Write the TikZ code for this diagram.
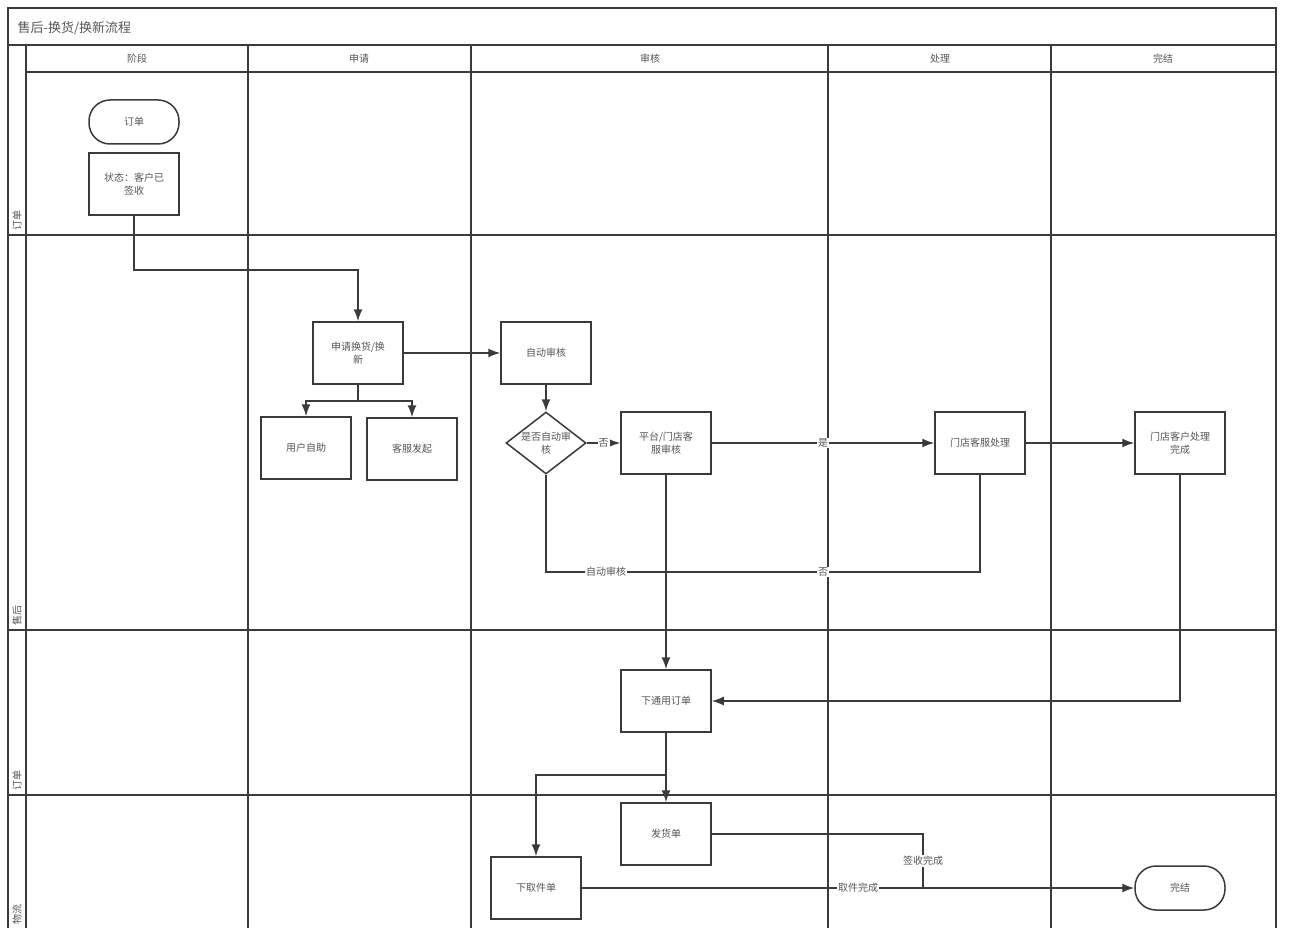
\documentclass[tikz,border=0pt]{standalone}
\usepackage{fontspec}
\setmainfont{Noto Sans CJK SC}
\usetikzlibrary{shapes.geometric,arrows.meta,calc}
\definecolor{linec}{HTML}{3A3A3A}
\definecolor{txtc}{HTML}{555555}
\tikzset{
  lane/.style={draw=linec, line width=1.5pt},
  box/.style={draw=linec, line width=1.5pt, fill=white, minimum width=90pt, minimum height=62pt,
    align=center, text=txtc, font=\fontsize{10}{13}\selectfont, inner sep=2pt},
  term/.style={box, rounded corners=21pt, minimum height=44pt},
  dia/.style={diamond, draw=linec, line width=1.5pt, fill=white, minimum width=80pt, minimum height=62pt, inner sep=0pt},
  txt/.style={text=txtc, font=\fontsize{10}{13}\selectfont, align=center},
  hdr/.style={text=txtc, font=\fontsize{10}{12}\selectfont},
  rowlbl/.style={text=txtc, font=\fontsize{10}{12}\selectfont, rotate=90, anchor=west, inner sep=0pt},
  conn/.style={draw=linec, line width=1.5pt},
  arr/.style={conn, -{Latex[length=12pt,width=9pt]}},
  elbl/.style={fill=white, text=txtc, font=\fontsize{10}{12}\selectfont, inner sep=1pt}
}
\begin{document}
\begin{tikzpicture}[x=1pt,y=-1pt]
\useasboundingbox (0,0) rectangle (1292,928);
% frame
\draw[lane] (8,945) -- (8,8) -- (1276,8) -- (1276,945);
\draw[lane] (8,45) -- (1276,45);
\draw[lane] (26,72) -- (1276,72);
\draw[lane] (26,45) -- (26,945);
\foreach \xx in {248,471,828,1051} { \draw[lane] (\xx,45) -- (\xx,945); }
\foreach \yy in {235,630,795} { \draw[lane] (8,\yy) -- (1276,\yy); }
% title and headers
\node[anchor=west, text=txtc, font=\fontsize{13}{15}\selectfont] (title) at (14,28) {售后-换货/换新流程};
\node[hdr] (h1) at (137,59) {阶段};
\node[hdr] (h2) at (359,59) {申请};
\node[hdr] (h3) at (650,59) {审核};
\node[hdr] (h4) at (940,59) {处理};
\node[hdr] (h5) at (1163,59) {完结};
% row labels
\node[rowlbl] (r1) at (17,231) {订单};
\node[rowlbl] (r2) at (17,626) {售后};
\node[rowlbl] (r3) at (17,791) {订单};
\node[rowlbl] (r4) at (17,925) {物流};
% nodes
\node[term] (order) at (134,122) {订单};
\node[box] (state) at (134,184) {状态：客户已\\签收};
\node[box] (apply) at (358,353) {申请换货/换\\新};
\node[box] (self) at (306,448) {用户自助};
\node[box] (cs) at (412,449) {客服发起};
\node[box] (auto) at (546,353) {自动审核};
\node[dia] (dec) at (546,443) {};
\node[txt] (dect) at (546,443) {是否自动审\\核};
\node[box] (plat) at (666,443) {平台/门店客\\服审核};
\node[box] (store) at (980,443) {门店客服处理};
\node[box] (fin) at (1180,443) {门店客户处理\\完成};
\node[box] (gen) at (666,701) {下通用订单};
\node[box] (ship) at (666,834) {发货单};
\node[box] (pick) at (536,888) {下取件单};
\node[term] (end) at (1180,888) {完结};
\coordinate (m) at (666,572);
\coordinate (j) at (923,888);
% connectors
\draw[arr] (state.south) -- ++(0,54) -| (apply.north);
\draw[arr] (apply.east) -- (auto.west);
\draw[arr] (apply.south) -- ++(0,16) -| (self.north);
\draw[arr] (apply.south) -- ++(0,16) -| (cs.north);
\draw[arr] (auto.south) -- (dec.north);
\draw[arr] (dec.east) -- node[elbl] {否} (plat.west);
\draw[arr] (plat.east) -- node[elbl] {是} (store.west);
\draw[arr] (store.east) -- (fin.west);
\draw[conn] (dec.south) |- node[elbl, pos=0.75] {自动审核} (m);
\draw[conn] (store.south) |- node[elbl, pos=0.75] {否} (m);
\draw[arr] (plat.south) -- (gen.north);
\draw[arr] (fin.south) |- (gen.east);
\draw[arr] (gen.south) -- (ship.north);
\draw[arr] (gen.south) -- ++(0,42) -| (pick.north);
\draw[conn] (ship.east) -| node[elbl, pos=0.75] {签收完成} (j);
\draw[arr] (pick.east) -- node[elbl] {取件完成} (end.west);
\end{tikzpicture}
\end{document}
